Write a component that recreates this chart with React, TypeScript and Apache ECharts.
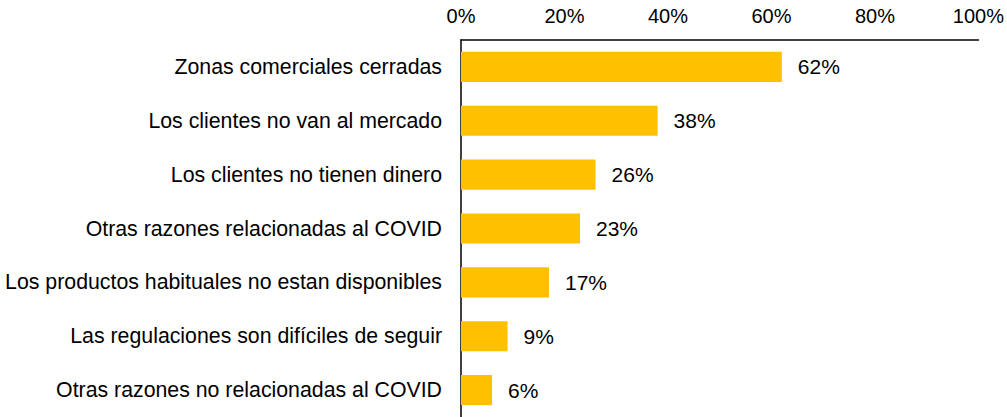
import React, { useEffect, useRef } from "react";
import * as echarts from "echarts";

const categories = [
  "Zonas comerciales cerradas",
  "Los clientes no van al mercado",
  "Los clientes no tienen dinero",
  "Otras razones relacionadas al COVID",
  "Los productos habituales no estan disponibles",
  "Las regulaciones son difíciles de seguir",
  "Otras razones no relacionadas al COVID",
];
const values = [62, 38, 26, 23, 17, 9, 6];

export default function App() {
  const ref = useRef<HTMLDivElement>(null);
  useEffect(() => {
    document.body.style.margin = "0";
    const chart = echarts.init(ref.current!, null, { renderer: "svg" });
    const font = "Liberation Sans, Arial, sans-serif";
    chart.setOption({
      animation: false,
      backgroundColor: "#ffffff",
      textStyle: { fontFamily: font },
      grid: { left: 461, right: 28, top: 40, bottom: 0 },
      xAxis: {
        type: "value",
        position: "top",
        min: 0,
        max: 100,
        interval: 20,
        axisLine: { show: true, lineStyle: { color: "#000", width: 1.5 } },
        axisTick: { show: false },
        splitLine: { show: false },
        axisLabel: {
          formatter: "{value}%",
          color: "#000",
          fontSize: 20,
          fontFamily: font,
          margin: 14,
        },
      },
      yAxis: {
        type: "category",
        inverse: true,
        data: categories,
        axisLine: { show: true, lineStyle: { color: "#000", width: 1.5 } },
        axisTick: { show: false },
        axisLabel: {
          color: "#000",
          fontSize: 21.3,
          fontFamily: font,
          margin: 19,
        },
      },
      series: [
        {
          type: "bar",
          data: values,
          barCategoryGap: "44%",
          itemStyle: { color: "#FFC000" },
          label: {
            show: true,
            position: "right",
            distance: 16,
            formatter: "{c}%",
            color: "#000",
            fontSize: 21,
            fontFamily: font,
          },
        },
      ],
    });
    return () => chart.dispose();
  }, []);
  return <div ref={ref} style={{ width: 1007, height: 417 }} />;
}
